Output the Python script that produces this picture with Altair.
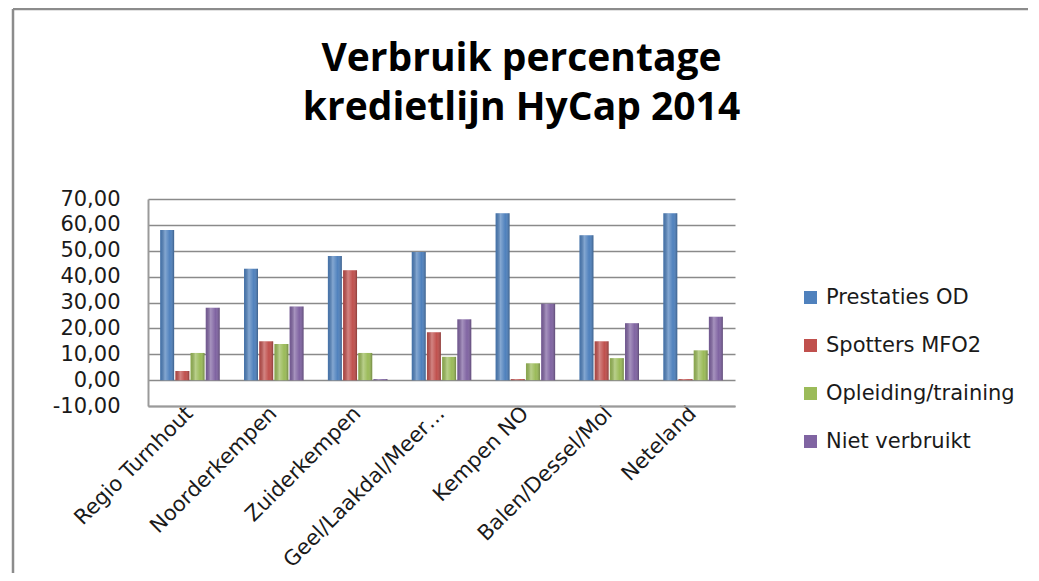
import altair as alt
import pandas as pd

categories = ["Regio Turnhout", "Noorderkempen", "Zuiderkempen", "Geel/Laakdal/Meer…",
              "Kempen NO", "Balen/Dessel/Mol", "Neteland"]
series = ["Prestaties OD", "Spotters MFO2", "Opleiding/training", "Niet verbruikt"]
prestaties_od = [58.0, 43.0, 48.0, 49.5, 64.5, 56.0, 64.5]
spotters_mfo2 = [3.5, 15.0, 42.5, 18.5, 0.4, 15.0, 0.4]
opleiding_training = [10.5, 14.0, 10.5, 9.0, 6.5, 8.5, 11.5]
niet_verbruikt = [28.0, 28.5, 0.4, 23.5, 29.5, 22.0, 24.5]
colors = ["#4F81BD", "#C0504D", "#9BBB59", "#8064A2"]
y_ticks = [-10, 0, 10, 20, 30, 40, 50, 60, 70]

rows = []
for s, vals in zip(series, [prestaties_od, spotters_mfo2, opleiding_training, niet_verbruikt]):
    for c, v in zip(categories, vals):
        rows.append({"Regio": c, "Reeks": s, "Waarde": v})
df = pd.DataFrame(rows)

FONT = "DejaVu Sans"
TITLE_FONT = "Open Sans"
FS = 21

x_axis = alt.Axis(title=None, labelAngle=-45, labelAlign="right", labelBaseline="middle",
                  labelPadding=4, tickSize=0, labelFont=FONT, labelFontSize=FS,
                  labelColor="#1a1a1a", domainColor="#9a9a9a", domainWidth=2,
                  labelLimit=300, labelOverlap=False)
y_axis = alt.Axis(title=None, values=y_ticks, tickSize=0, labelPadding=28,
                  labelFont=FONT, labelFontSize=FS, labelColor="#1a1a1a",
                  labelOverlap=False,
                  labelExpr="(datum.value < 0 ? '-' : '') + replace(format(abs(datum.value), '.2f'), '.', ',')",
                  gridColor="#8a8a8a", gridWidth=1.5, domainColor="#9a9a9a", domainWidth=2)
x_scale = alt.Scale(paddingInner=0.29, paddingOuter=0.145)
y_scale = alt.Scale(domain=[-10, 70], nice=False)
xoff_enc = alt.XOffset("Reeks:N", sort=series, scale=alt.Scale(paddingInner=0.08))

bars = alt.Chart(df).mark_bar().encode(
    x=alt.X("Regio:N", sort=categories, scale=x_scale, axis=x_axis),
    xOffset=xoff_enc,
    y=alt.Y("Waarde:Q", scale=y_scale, axis=y_axis),
    color=alt.Color("Reeks:N", sort=series,
                    scale=alt.Scale(domain=series, range=colors),
                    legend=alt.Legend(title=None, orient="none", legendX=652, legendY=88,
                                      padding=0, symbolType="square", symbolSize=170,
                                      symbolStrokeWidth=0,
                                      labelFont=FONT, labelFontSize=FS, labelColor="#1a1a1a",
                                      labelOffset=5, rowPadding=26, labelLimit=300)),
)

shade = {
    "gradient": "linear", "x1": 0, "y1": 0, "x2": 1, "y2": 0,
    "stops": [
        {"offset": 0.0, "color": "rgba(0,0,0,0.10)"},
        {"offset": 0.35, "color": "rgba(255,255,255,0.30)"},
        {"offset": 0.7, "color": "rgba(255,255,255,0.0)"},
        {"offset": 1.0, "color": "rgba(0,0,0,0.28)"},
    ],
}
shading = alt.Chart(df).mark_bar(fill=shade).encode(
    x=alt.X("Regio:N", sort=categories, scale=x_scale, axis=x_axis),
    xOffset=xoff_enc,
    y=alt.Y("Waarde:Q", scale=y_scale, axis=y_axis))

frame_df = pd.DataFrame({"k": [0]})
frame_top = alt.Chart(frame_df).mark_rule(color="#8c8c8c", strokeWidth=2.5).encode(
    x=alt.value(-135), x2=alt.value(900), y=alt.value(-190))
frame_left = alt.Chart(frame_df).mark_rule(color="#8c8c8c", strokeWidth=2.5).encode(
    x=alt.value(-135), y=alt.value(-190), y2=alt.value(400))

chart = alt.layer(frame_top, frame_left, bars, shading).properties(
    width=587, height=207,
    autosize=alt.AutoSizeParams(type="none"),
    padding={"left": 140, "top": 191, "right": 293, "bottom": 167},
    title=alt.TitleParams(text=["Verbruik percentage", "kredietlijn HyCap 2014"],
                          anchor="middle", frame="group", dx=80, font=TITLE_FONT, fontSize=39,
                          fontWeight="bold", color="#000000", lineHeight=49, offset=-120),
).configure_view(strokeWidth=0)

chart.save("out.html", embed_options={"renderer": "svg", "actions": False})
